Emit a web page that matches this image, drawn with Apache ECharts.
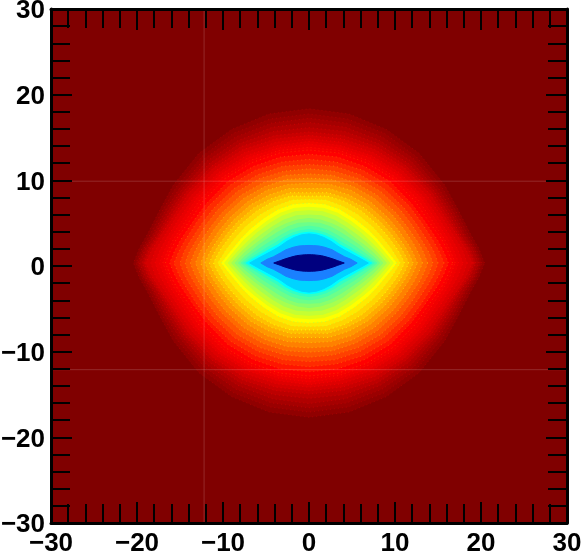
<!DOCTYPE html>
<html>
<head>
<meta charset="utf-8">
<script src="https://cdn.jsdelivr.net/npm/echarts@6/dist/echarts.min.js"></script>
<style>
html, body { margin: 0; padding: 0; background: #fff; }
#chart { width: 583px; height: 552px; }
</style>
</head>
<body>
<div id="chart"></div>
<script>
// axis
const axisMin = -30;
const axisMax = 30;
const axisStep = 10;

// faint lines across the plot
const gridLineX = [-12.2];
const gridLineY = [9.9, -12.1];

// the contours are symmetric around this point
const centerX = 0;
const centerY = 0.35;

// ray directions (degrees) of the first quadrant
const rayAngles = [0, 5, 10, 20, 30, 45, 60, 75, 90];

// contour fill colours, outermost first
const levelColors = [
  '#900000', '#9a0000', '#a50000', '#b00000', '#bc0000', '#c80000', '#d40000', '#de0000',
  '#e80000', '#f00000', '#f80000', '#ff0000', '#ff1500', '#ff2a00', '#ff4000', '#ff5500',
  '#ff6a00', '#ff8000', '#ff9500', '#ffaa00', '#ffbf00', '#ffd500', '#ffea00', '#ffff00',
  '#e0ff17', '#c4ff33', '#a6ff50', '#8aff6c', '#6cff8a', '#50ffa6', '#33ffc4', '#00ffff',
  '#00d4ff', '#1a80ff', '#00007f'
];

// radius of each contour along the rays
const levelRadii = [
  [20.4, 19.8, 19.1, 18.4, 18.2, 18.1, 18.0, 18.0, 18.0],
  [20.1, 19.5, 18.8, 18.1, 17.8, 17.6, 17.5, 17.4, 17.4],
  [19.9, 19.3, 18.5, 17.8, 17.4, 17.2, 17.0, 16.9, 16.9],
  [19.7, 19.1, 18.3, 17.5, 17.1, 16.8, 16.5, 16.4, 16.4],
  [19.4, 18.8, 18.0, 17.2, 16.8, 16.4, 16.1, 15.9, 15.8],
  [19.2, 18.6, 17.8, 16.9, 16.5, 16.0, 15.7, 15.4, 15.3],
  [19.0, 18.3, 17.6, 16.6, 16.2, 15.7, 15.3, 15.0, 14.9],
  [18.4, 17.9, 17.2, 16.3, 15.8, 15.3, 14.9, 14.6, 14.5],
  [17.9, 17.4, 16.8, 15.9, 15.4, 14.9, 14.5, 14.2, 14.2],
  [17.4, 16.9, 16.4, 15.5, 15.1, 14.6, 14.2, 13.9, 13.9],
  [17.0, 16.5, 16.0, 15.1, 14.7, 14.2, 13.8, 13.6, 13.5],
  [16.7, 16.2, 15.7, 14.7, 14.3, 13.9, 13.5, 13.3, 13.2],
  [16.2, 15.7, 15.2, 14.3, 13.8, 13.4, 13.0, 12.8, 12.7],
  [15.7, 15.2, 14.7, 13.9, 13.4, 12.9, 12.5, 12.2, 12.1],
  [15.0, 14.6, 14.1, 13.3, 12.8, 12.3, 11.9, 11.7, 11.5],
  [14.4, 14.0, 13.5, 12.8, 12.3, 11.8, 11.4, 11.1, 11.0],
  [13.8, 13.4, 13.0, 12.2, 11.7, 11.2, 10.8, 10.6, 10.4],
  [13.2, 12.8, 12.4, 11.7, 11.2, 10.7, 10.3, 10.1, 9.9],
  [12.6, 12.2, 11.8, 11.1, 10.6, 10.1, 9.8, 9.5, 9.3],
  [12.1, 11.7, 11.3, 10.6, 10.1, 9.6, 9.2, 9.0, 8.7],
  [11.6, 11.2, 10.8, 10.1, 9.6, 9.1, 8.7, 8.5, 8.2],
  [11.1, 10.7, 10.3, 9.6, 9.1, 8.6, 8.3, 8.1, 7.8],
  [10.6, 10.1, 9.7, 9.0, 8.5, 8.0, 7.7, 7.6, 7.4],
  [10.2, 9.6, 9.1, 8.4, 7.9, 7.4, 7.2, 7.1, 7.0],
  [9.8, 9.2, 8.7, 8.0, 7.4, 6.9, 6.7, 6.6, 6.5],
  [9.4, 8.8, 8.3, 7.5, 7.0, 6.5, 6.3, 6.2, 6.1],
  [9.0, 8.4, 7.9, 7.1, 6.5, 6.0, 5.8, 5.7, 5.6],
  [8.6, 8.0, 7.5, 6.6, 6.0, 5.6, 5.3, 5.2, 5.2],
  [8.2, 7.6, 7.0, 6.2, 5.6, 5.1, 4.9, 4.8, 4.7],
  [7.9, 7.2, 6.6, 5.7, 5.1, 4.6, 4.4, 4.3, 4.3],
  [7.6, 6.8, 6.1, 5.2, 4.6, 4.2, 4.0, 3.9, 3.9],
  [7.3, 6.4, 5.7, 4.8, 4.2, 3.9, 3.7, 3.6, 3.6],
  [6.9, 6.0, 5.3, 4.4, 3.9, 3.6, 3.45, 3.4, 3.4],
  [5.6, 4.9, 4.2, 3.5, 3.1, 2.6, 2.3, 2.1, 2.05],
  [4.1, 3.3, 2.8, 2.1, 1.7, 1.3, 1.1, 1.0, 0.97]
];

const labelFont = {
  fontFamily: '"Liberation Sans", Arial, sans-serif',
  fontWeight: 'bold',
  fontSize: 26,
  color: '#000'
};

// walk the four quadrants to get the whole outline of one contour
function contourPoints(radii) {
  const pts = [];
  const add = (deg, r) => {
    const a = deg * Math.PI / 180;
    pts.push([centerX + r * Math.cos(a), centerY + r * Math.sin(a)]);
  };
  rayAngles.forEach((d, i) => add(d, radii[i]));
  for (let i = rayAngles.length - 2; i >= 0; i--) add(180 - rayAngles[i], radii[i]);
  for (let i = 1; i < rayAngles.length; i++) add(180 + rayAngles[i], radii[i]);
  for (let i = rayAngles.length - 2; i > 0; i--) add(360 - rayAngles[i], radii[i]);
  return pts;
}

function renderContour(params, api) {
  const i = api.value(0);
  const points = contourPoints(levelRadii[i]).map(p => api.coord(p));
  const next = levelColors[Math.min(i + 2, levelColors.length - 1)];
  return {
    type: 'polygon',
    shape: { points: points },
    style: {
      fill: levelColors[i],
      stroke: i < 24 ? next : levelColors[i],
      lineWidth: 1,
      lineDash: i < 24 ? [1, 3] : null
    }
  };
}

// the faint straight lines, x0 y0 x1 y1 in axis values
const gridLines = gridLineX.map(v => [v, axisMin, v, axisMax])
  .concat(gridLineY.map(v => [axisMin, v, axisMax, v]));

function renderGridLine(params, api) {
  const a = api.coord([api.value(0), api.value(1)]);
  const b = api.coord([api.value(2), api.value(3)]);
  return {
    type: 'line',
    shape: { x1: a[0], y1: a[1], x2: b[0], y2: b[1] },
    style: { stroke: 'rgba(255,255,255,0.16)', lineWidth: 1 }
  };
}

const tickText = v => String(v).replace('-', '\u2212');

function axisCommon(extra) {
  return Object.assign({
    type: 'value',
    min: axisMin,
    max: axisMax,
    interval: axisStep,
    z: 10,
    splitLine: { show: false },
    axisLine: { show: true, onZero: false, lineStyle: { color: '#000', width: 3 } },
    axisTick: { show: true, inside: true, length: 21, lineStyle: { color: '#000', width: 2 } },
    minorTick: { show: true, splitNumber: 5, length: 19, lineStyle: { color: '#000', width: 2 } },
    axisLabel: { show: false }
  }, extra);
}

const chart = echarts.init(document.getElementById('chart'));
chart.setOption({
  animation: false,
  backgroundColor: '#fff',
  grid: { left: 51, right: 16, top: 9, bottom: 29, show: true, backgroundColor: '#800000', borderWidth: 0, outerBoundsMode: 'none' },
  xAxis: [
    axisCommon({ position: 'bottom', axisLabel: Object.assign({ show: true, margin: 8, formatter: tickText, hideOverlap: false }, labelFont) }),
    axisCommon({ position: 'top' })
  ],
  yAxis: [
    axisCommon({
      position: 'left',
      axisLabel: {
        show: true,
        margin: 6,
        hideOverlap: false,
        formatter: v => '{n|' + tickText(v) + '}',
        rich: { n: Object.assign({ padding: [4, 0, 0, 0] }, labelFont) }
      }
    }),
    axisCommon({ position: 'right' })
  ],
  series: [
    {
      type: 'custom',
      silent: true,
      clip: true,
      renderItem: renderContour,
      data: levelRadii.map((r, i) => [i]),
      encode: { x: 0 }
    },
    {
      type: 'custom',
      silent: true,
      z: 5,
      renderItem: renderGridLine,
      data: gridLines,
      encode: { x: [0, 2], y: [1, 3] }
    }
  ]
});
</script>
</body>
</html>
